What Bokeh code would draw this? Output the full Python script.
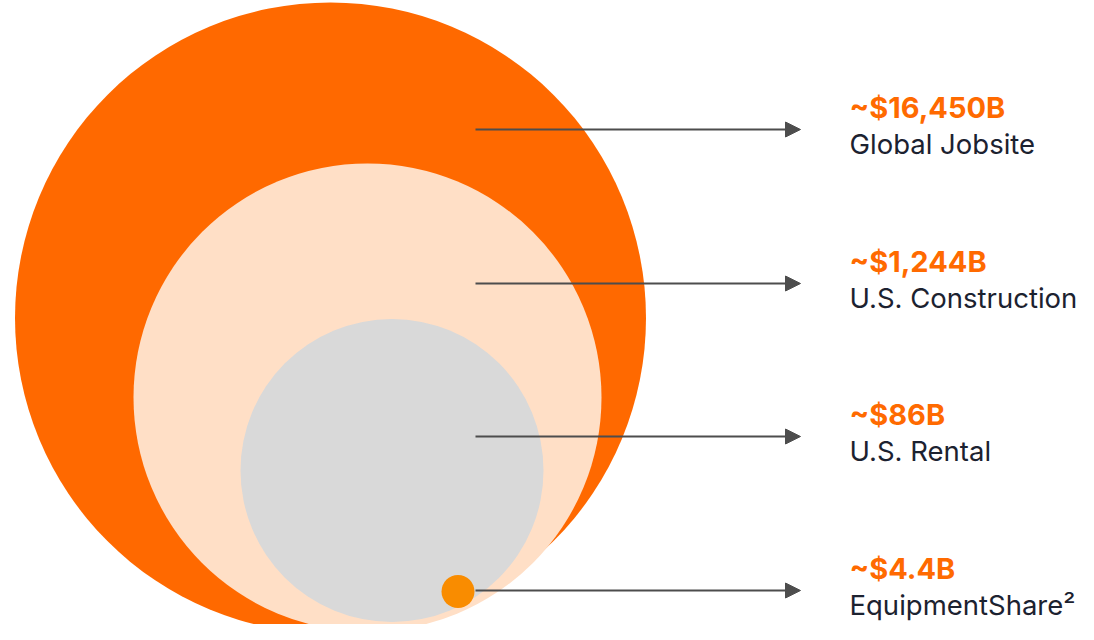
from bokeh.plotting import figure
from bokeh.models import Range1d, Arrow, NormalHead, ColumnDataSource
from bokeh.core.properties import value
from bokeh.embed import file_html
from bokeh.resources import INLINE

# data
values = ["~$16,450B", "~$1,244B", "~$86B", "~$4.4B"]
names = ["Global Jobsite", "U.S. Construction", "U.S. Rental", "EquipmentShare\u00b2"]
market_size_b = [16450, 1244, 86, 4.4]

# layout (reference pixel coordinates)
circle_x = [330, 367, 391.5, 457.5]
circle_y = [322.5, 402, 475, 596]
circle_r = [315.5, 234, 151.5, 16.5]
circle_colors = ["#FF6900", "#FFDFC6", "#D9D9D9", "#F98C00"]
arrow_y = [134, 288, 441, 595]
arrow_x0 = 475
arrow_x1 = 800
text_x = 849

W, H = 1078, 624
SHIFT = 5
p = figure(width=W, height=H, output_backend="svg", toolbar_location=None,
           x_range=Range1d(0, W), y_range=Range1d(H + SHIFT, SHIFT),
           min_border=0, outline_line_color=None)
p.axis.visible = False
p.grid.visible = False
p.background_fill_color = "white"
p.border_fill_color = "white"

p.circle(x=circle_x, y=circle_y, radius=circle_r, fill_color=circle_colors,
         line_color=None)

for i, y in enumerate(arrow_y):
    p.add_layout(Arrow(x_start=arrow_x0, y_start=y, x_end=arrow_x1, y_end=y,
                       line_color="#4D4D4D", line_width=2,
                       end=NormalHead(size=15, fill_color="#4D4D4D", line_color="#4D4D4D", line_width=1)))

src_v = ColumnDataSource(dict(x=[text_x] * 4, y=[a - 22 for a in arrow_y], t=values))
src_n = ColumnDataSource(dict(x=[text_x] * 4, y=[a + 14 for a in arrow_y], t=names))
p.text(x="x", y="y", text="t", source=src_v, text_font=value("Inter"),
       text_font_size="29px", text_font_style="bold", text_color="#FF6A00",
       text_baseline="alphabetic", text_align="left")
p.text(x="x", y="y", text="t", source=src_n, text_font=value("Inter"),
       text_font_size="27.5px", text_color="#1C2230",
       text_baseline="alphabetic", text_align="left")

open("out.html", "w").write(file_html(p, INLINE))
